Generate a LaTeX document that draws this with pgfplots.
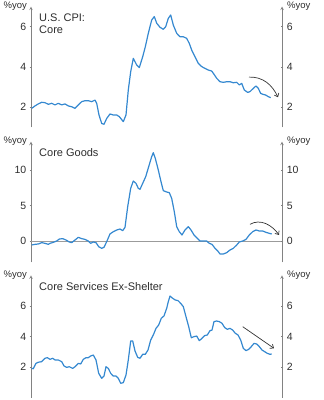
\documentclass[border=0pt]{standalone}
\usepackage{pgfplots}
\pgfplotsset{compat=1.18}
\usetikzlibrary{arrows.meta}
\usepackage{fontspec}
\setmainfont{Liberation Sans}
\definecolor{cpiblue}{RGB}{52,136,208}
\definecolor{axgray}{RGB}{130,130,130}
\definecolor{txtgray}{RGB}{45,45,45}
\definecolor{arrgray}{RGB}{50,50,50}

\pgfplotsset{
 panel/.style={
  scale only axis, width=251pt, xmin=31, xmax=282,
  axis x line=none,
  tick align=inside,
  major tick length=2.5pt,
  axis line style={-, draw=axgray, line width=0.6pt},
  tick style={draw=axgray, line width=0.6pt},
  yticklabel style={font=\fontsize{10.5}{12}\selectfont, text=txtgray},
  /pgf/number format/assume math mode=true,
  clip=false,
  anchor=south west,
 },
 leftpanel/.style={panel, axis y line=left},
 rightpanel/.style={panel, axis y line=right},
 blueline/.style={cpiblue, line width=1.2pt, line join=round, mark=none},
}
\newcommand{\yoyL}{\node[anchor=east, inner sep=0pt, font=\fontsize{9.5}{11}\selectfont, text=txtgray] at ([xshift=-4pt]rel axis cs:0,1) {\%yoy};}
\newcommand{\yoyR}{\node[anchor=west, inner sep=0pt, font=\fontsize{9.5}{11}\selectfont, text=txtgray] at ([xshift=5pt]rel axis cs:1,1) {\%yoy};}

\begin{document}
\begin{tikzpicture}
\useasboundingbox (0,0) rectangle (324pt,400pt);

% ---------- Panel 1: Core CPI
\begin{axis}[leftpanel, at={(31pt,272.5pt)}, height=121pt, ymin=1, ymax=7, ytick={2,4,6}]
\addplot[blueline] coordinates {
(31.7,1.95)(35,2.07)(38.3,2.17)(41.7,2.25)(45,2.23)(48.3,2.15)(51.7,2.2)(55,2.12)(58.3,2.2)(61.7,2.12)(65,2.17)(68.3,2.07)(71.7,2.03)(75,1.95)(78.3,2.12)(81.7,2.28)(85,2.33)(88.3,2.33)(91.7,2.28)(95,2.36)(96.7,2.2)(99,1.62)(101.7,1.2)(104,1.16)(106.7,1.45)(110,1.67)(113.3,1.62)(116.7,1.62)(119.3,1.54)(123.3,1.29)(126,1.62)(128.3,2.86)(130.7,3.77)(133.3,4.43)(136.7,4.1)(139.3,3.97)(142.7,4.51)(145.3,5.0)(148.3,5.67)(151.7,6.33)(154.3,6.5)(156.7,6.17)(160,5.97)(163.3,5.87)(165.7,6.0)(168.3,6.41)(170.7,6.58)(173.3,6.08)(176.7,5.67)(180,5.5)(183.3,5.5)(186.7,5.42)(189.3,5.17)(191.7,4.84)(195,4.51)(198.3,4.18)(201.7,4.02)(205,3.93)(208.3,3.85)(211.7,3.8)(213.3,3.69)(216.7,3.44)(220,3.27)(223.3,3.24)(226.7,3.27)(230,3.27)(233.3,3.22)(236.7,3.24)(239.3,3.11)(241.7,3.19)(244.3,2.86)(247.7,2.74)(250,2.78)(253.3,2.94)(256,3.06)(258.3,2.94)(260.7,2.69)(263.3,2.64)(265.7,2.61)(268.3,2.53)(270.7,2.48)
};
\draw[arrgray, line width=0.7pt, -{Straight Barb[length=3pt,width=5pt]}] (axis cs:249,3.5) to[out=2,in=115] (axis cs:278,2.5);
\node[anchor=north west, inner sep=0pt, align=left, font=\fontsize{11}{12.5}\selectfont, text=txtgray] at ([xshift=8pt,yshift=-7pt]rel axis cs:0,1) {U.S. CPI:\\Core};
\yoyL
\end{axis}
\begin{axis}[rightpanel, at={(31pt,272.5pt)}, height=121pt, ymin=1, ymax=7, ytick={2,4,6}]
\addplot[draw=none] coordinates {(100,2)};
\yoyR
\end{axis}

% ---------- Panel 2: Core Goods
\begin{axis}[leftpanel, at={(31pt,137.7pt)}, height=120.7pt, ymin=-3, ymax=14, ytick={0,5,10}]
\addplot[axgray!80, line width=0.6pt] coordinates {(31,0)(282,0)};
\addplot[blueline] coordinates {
(31.7,-0.56)(35,-0.47)(38.3,-0.42)(41.7,-0.23)(45,-0.33)(48.3,-0.47)(50,-0.33)(53.3,-0.19)(56.7,0)(59.3,0.28)(62.7,0.33)(66,0.14)(69.3,-0.14)(71.7,-0.23)(75,0.14)(78.3,0.52)(81.7,0.33)(85,0.23)(88.3,0)(90.7,-0.33)(93.3,-0.14)(96,-0.23)(98.7,-0.8)(101.7,-1.03)(104,-0.89)(106.7,-0.09)(110,0.99)(113.3,1.31)(116.7,1.55)(120,1.69)(122.7,1.46)(125,1.92)(127.7,4.84)(130.7,7.42)(133.3,8.45)(136,8.12)(138.3,7.42)(140,7.28)(142.7,8.12)(145.7,9.06)(148.7,10.47)(151.7,11.88)(153.3,12.44)(155.3,11.64)(158.3,10.0)(161,8.36)(163.3,7.09)(166.7,6.9)(169.3,6.81)(171.7,6.0)(174.3,4.13)(176.7,2.02)(179.3,1.31)(182,0.85)(185,1.55)(188.3,2.02)(191,1.55)(194,0.85)(197.3,0.38)(200,0)(203.3,0)(206.7,0)(209.3,-0.33)(212,-0.47)(215,-1.03)(218.3,-1.5)(220,-1.83)(223.3,-1.83)(226.7,-1.64)(230,-1.27)(233.3,-1.03)(236.7,-0.56)(239.3,-0.14)(242.7,0)(246,0.23)(249.3,0.85)(252.7,1.31)(256,1.55)(259.3,1.41)(262.7,1.41)(266,1.22)(269.3,1.08)(271.7,0.99)
};
\draw[arrgray, line width=0.7pt, -{Straight Barb[length=3pt,width=5pt]}] (axis cs:250,2.35) to[out=30,in=125] (axis cs:279,0.85);
\node[anchor=north west, inner sep=0pt, align=left, font=\fontsize{11}{12.5}\selectfont, text=txtgray] at ([xshift=8pt,yshift=-7pt]rel axis cs:0,1) {Core Goods};
\yoyL
\end{axis}
\begin{axis}[rightpanel, at={(31pt,137.7pt)}, height=120.7pt, ymin=-3, ymax=14, ytick={0,5,10}]
\addplot[draw=none] coordinates {(100,2)};
\yoyR
\end{axis}

% ---------- Panel 3: Core Services Ex-Shelter
\begin{axis}[leftpanel, at={(31pt,2pt)}, height=122.7pt, ymin=0, ymax=8, ytick={2,4,6}]
\addplot[blueline] coordinates {
(31.7,1.93)(33.3,1.91)(36,2.26)(38.3,2.33)(41.7,2.37)(45,2.59)(47.3,2.63)(50,2.52)(52.7,2.59)(55,2.48)(58.3,2.48)(61.7,2.37)(64,2.09)(66.7,2.0)(69.3,2.04)(72.7,1.93)(75,2.04)(78.3,2.26)(80.7,2.22)(83.3,2.52)(86,2.63)(88.3,2.63)(90.7,2.74)(93.3,2.8)(96,2.48)(98.7,1.61)(101.7,1.28)(104,1.43)(106,2.04)(108.3,1.93)(110.7,1.61)(113.3,1.43)(116,1.43)(118.3,1.28)(120.7,0.96)(123.3,1.0)(126,1.5)(128.3,2.48)(130.7,3.72)(132.7,3.72)(135,3.07)(137.7,2.65)(140,2.59)(142.7,2.85)(145.3,2.85)(148,3.13)(150.7,3.78)(153.3,4.11)(156,4.54)(158.7,4.76)(161.3,5.2)(164,5.35)(166.7,5.85)(168.3,6.28)(170,6.65)(172.7,6.5)(175.3,6.39)(178,6.35)(180.7,6.17)(183.3,5.96)(186,5.3)(188.7,4.65)(191.3,3.93)(194,4.0)(196.7,4.04)(199.3,3.74)(202,3.89)(204.7,4.07)(207.3,4.11)(210,4.39)(212,4.43)(214,4.98)(216.7,5.02)(219.3,4.98)(222,4.87)(224.7,4.59)(227.3,4.48)(230,4.54)(232.7,4.43)(235.3,4.22)(238,4.11)(240.7,3.78)(243.3,3.24)(246,3.09)(248.7,3.17)(251.3,3.35)(254,3.56)(256.7,3.52)(259.3,3.35)(262,3.13)(264.7,3.02)(267.3,2.91)(270,2.85)(271.7,2.87)
};
\draw[arrgray, line width=0.7pt, -{Straight Barb[length=3pt,width=5pt]}] (axis cs:242.7,4.65) -- (axis cs:274,3.24);
\node[anchor=north west, inner sep=0pt, align=left, font=\fontsize{11}{12.5}\selectfont, text=txtgray] at ([xshift=8pt,yshift=-7pt]rel axis cs:0,1) {Core Services Ex-Shelter};
\yoyL
\end{axis}
\begin{axis}[rightpanel, at={(31pt,2pt)}, height=122.7pt, ymin=0, ymax=8, ytick={2,4,6}]
\addplot[draw=none] coordinates {(100,2)};
\yoyR
\end{axis}
\end{tikzpicture}
\end{document}
